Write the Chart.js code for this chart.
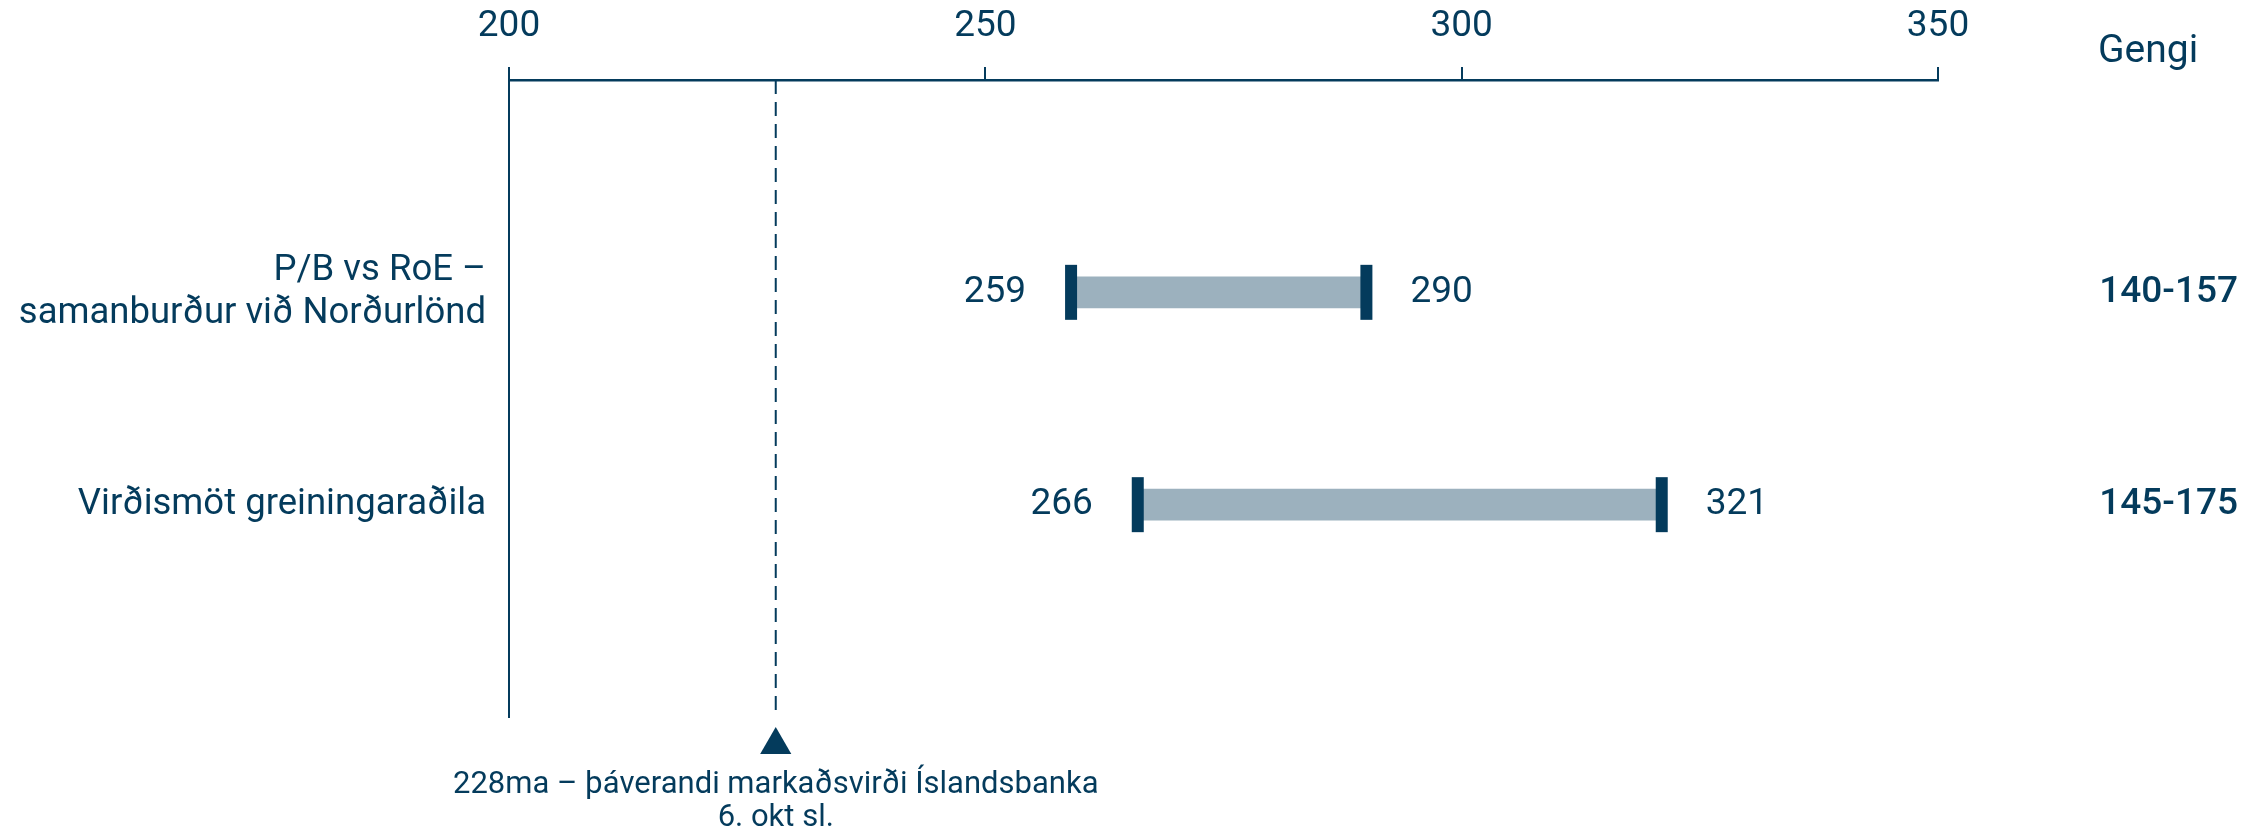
<!DOCTYPE html>
<html>
<head>
<meta charset="utf-8">
<script src="https://cdn.jsdelivr.net/npm/chart.js@4.4.1/dist/chart.umd.min.js"></script>
<style>
  body { margin: 0; background: #fff; }
  canvas { display: block; }
</style>
</head>
<body>
<canvas id="rangeChart" width="2265" height="831"></canvas>
<script>
const rowLabels = [["P/B vs RoE –", "samanburður við Norðurlönd"], "Virðismöt greiningaraðila"];
const rowLow = [259, 266];
const rowHigh = [290, 321];
const rowRange = ["140-157", "145-175"];
const xTicks = [200, 250, 300, 350];
const marketValue = 228;
const marketNote = ["228ma – þáverandi markaðsvirði Íslandsbanka", "6. okt sl."];
const axisTitle = "Gengi";

const navy = "#043b5c";
const steel = "#9cb1be";
const fontFamily = "Roboto, 'Noto Sans', sans-serif";

// bars and caps built from the arrays above
const barData = rowLow.map((lo, i) => ({ y: i + 1, x: [lo, rowHigh[i]] }));
const capData = [];
rowLow.forEach((lo, i) => {
  capData.push({ x: lo, y: i + 1 });
  capData.push({ x: rowHigh[i], y: i + 1 });
});

const textPlugin = {
  id: "textPlugin",
  afterDatasetsDraw(chart) {
    const ctx = chart.ctx;
    const xs = chart.scales.x;
    const ys = chart.scales.y;
    ctx.save();
    ctx.fillStyle = navy;
    ctx.textBaseline = "middle";
    ctx.font = "37px " + fontFamily;
    rowLow.forEach((lo, i) => {
      const y = ys.getPixelForValue(i + 1);
      ctx.textAlign = "right";
      ctx.fillText(String(lo), xs.getPixelForValue(lo) - 45, y);
      ctx.textAlign = "left";
      ctx.fillText(String(rowHigh[i]), xs.getPixelForValue(rowHigh[i]) + 44, y);
    });
    ctx.font = "500 37px " + fontFamily;
    ctx.textAlign = "right";
    rowRange.forEach((t, i) => {
      ctx.fillText(t, 2238, ys.getPixelForValue(i + 1));
    });
    ctx.font = "39px " + fontFamily;
    ctx.textAlign = "left";
    ctx.textBaseline = "alphabetic";
    ctx.fillText(axisTitle, 2098, 62);
    ctx.font = "31px " + fontFamily;
    ctx.textAlign = "center";
    const mx = xs.getPixelForValue(marketValue);
    ctx.fillText(marketNote[0], mx, 793);
    ctx.fillText(marketNote[1], mx, 826);
    ctx.restore();
  }
};

new Chart("rangeChart", {
  type: "bar",
  data: {
    datasets: [
      {
        type: "line",
        data: [{ x: marketValue, y: 0 }, { x: marketValue, y: 2.976 }],
        borderColor: navy,
        borderWidth: 2,
        borderDash: [14, 8],
        pointRadius: 0,
        order: 3
      },
      {
        type: "bar",
        indexAxis: "y",
        data: barData,
        backgroundColor: steel,
        barThickness: 31,
        order: 2
      },
      {
        type: "scatter",
        data: capData,
        pointStyle: "line",
        rotation: 90,
        radius: 27.5,
        borderWidth: 12,
        borderColor: navy,
        backgroundColor: navy,
        order: 1
      },
      {
        // marker under the dashed line, sits just below the plot area
        type: "scatter",
        data: [{ x: marketValue, y: 3.132 }],
        pointStyle: "triangle",
        radius: 18,
        borderWidth: 12,
        borderColor: "rgba(0,0,0,0)",
        backgroundColor: navy,
        clip: false,
        order: 0
      }
    ]
  },
  options: {
    responsive: false,
    animation: false,
    devicePixelRatio: 1,
    layout: { padding: { top: 0, right: 327, bottom: 114, left: 0 } },
    plugins: {
      legend: { display: false },
      tooltip: { enabled: false }
    },
    scales: {
      x: {
        type: "linear",
        position: "top",
        offset: false,
        min: 200,
        max: 350,
        afterFit(scale) { scale.height = 80; },
        afterBuildTicks(scale) { scale.ticks = xTicks.map(v => ({ value: v })); },
        grid: { offset: false, drawOnChartArea: false, tickLength: 13, color: navy, lineWidth: 2 },
        border: { display: true, color: navy, width: 2.5 },
        ticks: {
          color: navy,
          padding: 18,
          font: { family: fontFamily, size: 37 }
        }
      },
      y: {
        type: "linear",
        offset: false,
        reverse: true,
        min: 0,
        max: 3,
        afterFit(scale) { scale.width = 509; },
        afterBuildTicks(scale) { scale.ticks = [{ value: 1 }, { value: 2 }]; },
        grid: { offset: false, display: false, drawTicks: false },
        border: { display: true, color: navy, width: 2 },
        ticks: {
          color: navy,
          padding: 23,
          font: { family: fontFamily, size: 36.5, lineHeight: 1.16 },
          callback: (v) => rowLabels[v - 1]
        }
      }
    }
  },
  plugins: [textPlugin]
});
</script>
</body>
</html>
